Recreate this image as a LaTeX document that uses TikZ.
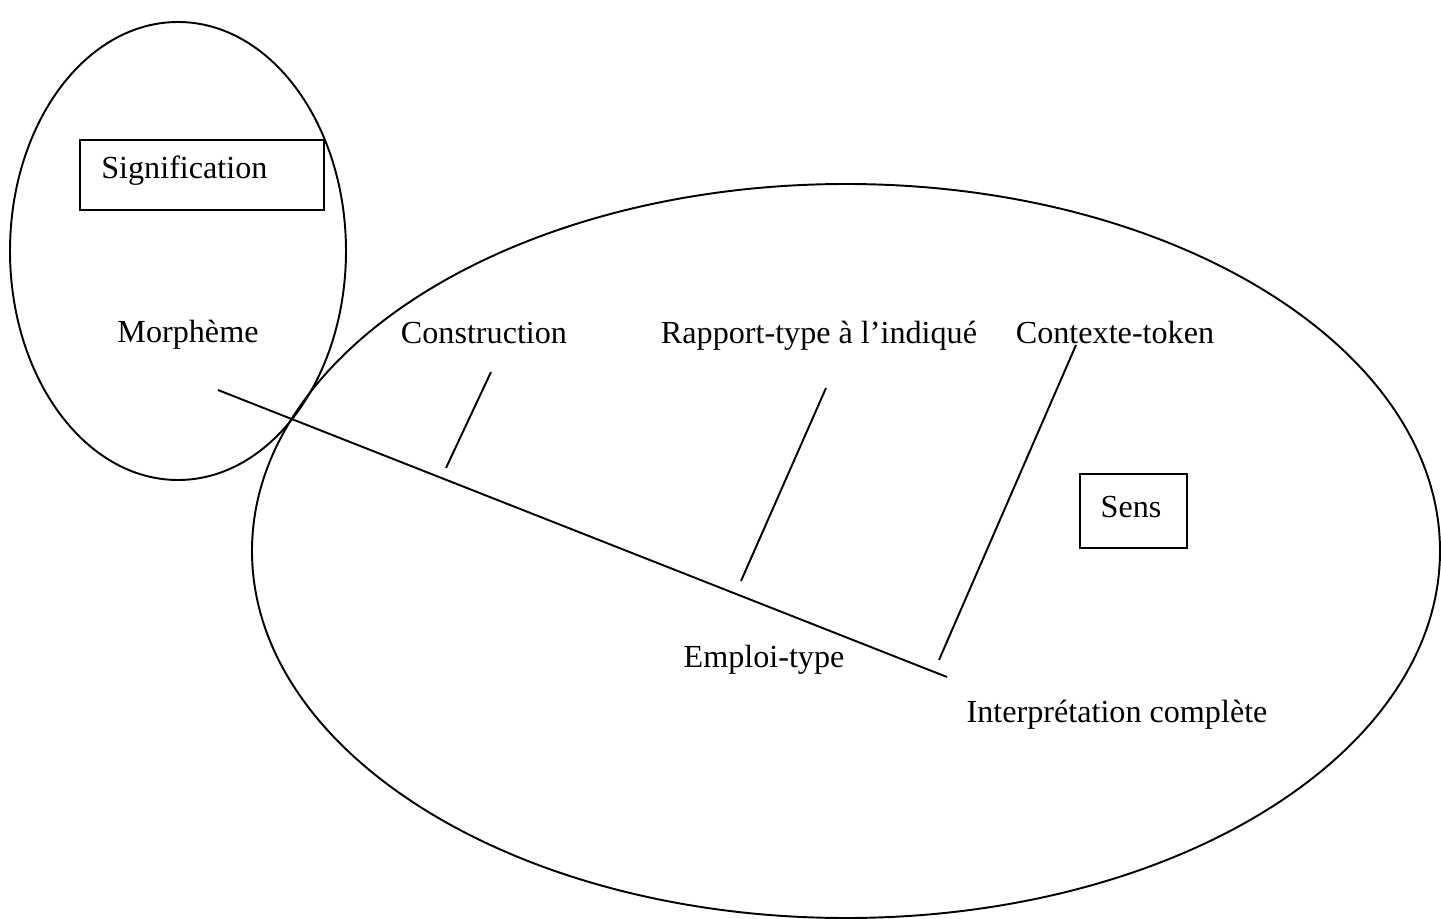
\documentclass[tikz,border=0pt]{standalone}
\usepackage{fontspec}
\setmainfont{Liberation Serif}
\tikzset{
  lbl/.style={font=\fontsize{18.3}{22}\selectfont, inner sep=0pt, anchor=base},
  boxlbl/.style={draw, line width=0.9pt, inner sep=0pt},
  trait/.style={line width=1.1pt}
}
\begin{document}
\begin{tikzpicture}[x=0.02cm,y=-0.02cm]
\useasboundingbox (0,0) rectangle (1441,919);
% les deux ensembles
\draw[trait] (178,251) ellipse [x radius=168,y radius=229];
\draw[trait] (846,551) ellipse [x radius=594,y radius=367];
% cadres
\node[boxlbl, minimum width=244*0.02cm, minimum height=70*0.02cm] (signif) at (202,175) {};
\node[lbl, anchor=base west] (signiftxt) at (101,178) {Signification};
\node[boxlbl, minimum width=107*0.02cm, minimum height=74*0.02cm] (sens) at (1133.5,511) {};
\node[lbl] (senstxt) at (1131,517) {Sens};
% etiquettes
\node[lbl] (morph) at (188,342) {Morphème};
\node[lbl] (constr) at (484,343) {Construction};
\node[lbl] (rapport) at (819,343) {Rapport-type à l’indiqué};
\node[lbl] (contexte) at (1115,343) {Contexte-token};
\node[lbl] (emploi) at (764,667) {Emploi-type};
\node[lbl] (interp) at (1117,722) {Interprétation complète};
% traits
\coordinate (m0) at (218,390);
\coordinate (m1) at (947,677);
\coordinate (c0) at (491,372);
\coordinate (c1) at (446,468);
\coordinate (r0) at (826,388);
\coordinate (r1) at (741,581);
\coordinate (t0) at (1076,345);
\coordinate (t1) at (939,660);
\draw[trait] (m0) -- (m1);
\draw[trait] (c0) -- (c1);
\draw[trait] (r0) -- (r1);
\draw[trait] (t0) -- (t1);
\end{tikzpicture}
\end{document}
